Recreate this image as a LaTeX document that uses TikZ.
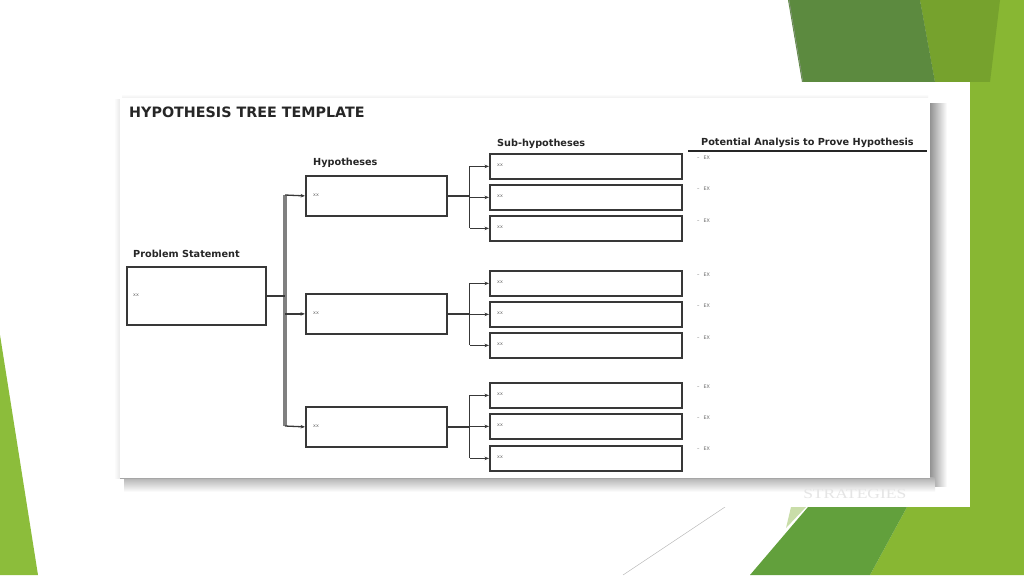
\documentclass[tikz,border=0pt]{standalone}
\usepackage{fontspec}
\setmainfont{DejaVu Sans}
\newfontfamily\wmfont{Liberation Serif}
\usetikzlibrary{arrows.meta}
\definecolor{dgreen}{HTML}{5C8A3F}
\definecolor{mgreen}{HTML}{76A22D}
\definecolor{lgreen}{HTML}{88B733}
\definecolor{bgreen}{HTML}{62A03C}
\definecolor{pgreen}{HTML}{C9DDA9}
\definecolor{trianglegreen}{HTML}{8CBD3B}
\begin{document}
\begin{tikzpicture}[x=1pt,y=-1pt,
  box/.style={draw=black!78,line width=1.8pt,anchor=north west,inner sep=0pt},
  hdr/.style={font=\bfseries\fontsize{9.7}{11}\selectfont,text=black!85,anchor=west,inner sep=0pt},
  tiny/.style={font=\fontsize{4.8}{5}\selectfont,text=black!60,anchor=west,inner sep=0pt},
  conn/.style={draw=black!78,line width=1.3pt},
  arr/.style={draw=black!78,line width=1.3pt,-{Stealth[length=4.5pt,width=3.5pt]}},
  trunk/.style={draw=black!50,line width=3.2pt}]
\useasboundingbox (0,0) rectangle (1024,575);
\fill[white] (0,0) rectangle (1024,575);
% slide decorations
\fill[trianglegreen] (0,335) -- (38,575) -- (0,575) -- cycle;
\fill[lgreen] (920,0) -- (1024,0) -- (1024,575) -- (870,575) -- (907,507) -- (935,82) -- cycle;
\fill[mgreen] (920,0) -- (1000,0) -- (990,82) -- (935,82) -- cycle;
\fill[dgreen] (788,0) -- (920,0) -- (935,82) -- (802,82) -- cycle;
\draw[black!40,line width=0.4pt] (789,0) -- (803,82);
\fill[bgreen] (750,575) -- (808,507) -- (907,507) -- (870,575) -- cycle;
\fill[pgreen] (791,507) -- (806,507) -- (786,528) -- cycle;
\draw[black!30,line width=0.4pt] (725,507) -- (623,575);
% slide image frame
\fill[white] (97,82) rectangle (970,507);
% inner panel shadow
\shade[left color=black!45,right color=white] (929,104) rectangle (947,486);
\shade[top color=black!32,bottom color=white] (124,477) rectangle (935,492);
\shade[left color=white,right color=black!10] (114,100) rectangle (121,478);
\shade[top color=white,bottom color=black!8] (122,94) rectangle (928,99);
\fill[white] (120,98) rectangle (930,478);
\draw[black!35,line width=0.6pt] (120,478) -- (930,478);
\node[text=black!10,font=\wmfont\fontsize{14}{15}\selectfont,anchor=west,inner sep=0pt,xscale=1.25,transform shape] (wm) at (803,494) {STRATEGIES};
% title and headers
\node[font=\bfseries\fontsize{14.3}{16}\selectfont,text=black!85,anchor=west,inner sep=0pt] (title) at (129,112) {HYPOTHESIS TREE TEMPLATE};
\node[hdr] (lps) at (133,254) {Problem Statement};
\node[hdr] (lh) at (313,163) {Hypotheses};
\node[hdr] (ls) at (497,144) {Sub-hypotheses};
\node[hdr] (lpa) at (701,143) {Potential Analysis to Prove Hypothesis};
\draw[black!85,line width=1.1pt] (688,151) -- (927,151);
% problem box
\node[box,minimum width=139pt,minimum height=58pt] (ps) at (126,266) {};
\node[tiny] (psx) at (133,295) {xx};
% hypotheses
\node[box,minimum width=141pt,minimum height=40pt] (h1) at (305,175) {};
\node[box,minimum width=141pt,minimum height=40pt] (h2) at (305,293) {};
\node[box,minimum width=141pt,minimum height=40pt] (h3) at (305,406) {};
\node[tiny] (h1x) at (313,195) {xx};
\node[tiny] (h2x) at (313,313) {xx};
\node[tiny] (h3x) at (313,426) {xx};
% sub-hypotheses
\foreach \n/\y in {s11/153,s12/184,s13/215,s21/270,s22/301,s23/332,s31/382,s32/413,s33/445}{
  \node[box,minimum width=192pt,minimum height=25pt] (\n) at (489,\y) {};
  \node[tiny] (\n x) at (497,\y+12.5) {xx};
}
% potential analysis items
\foreach \n/\y in {e11/158,e12/189,e13/221,e21/275,e22/306,e23/338,e31/387,e32/418,e33/449}{
  \node[tiny] (\n) at (697,\y) {–\hspace{4pt}EX};
}
% trunk connectors
\coordinate (tt) at (285,195);
\coordinate (tb) at (285,426);
\draw[trunk] (tt) -- (tb);
\draw[conn] (ps.east) -- (ps.east -| tt);
\draw[arr] (tt) -- (h1.west);
\draw[arr] (h2.west -| tt) -- (h2.west);
\draw[arr] (tb) -- (h3.west);
% sub branches
\foreach \h/\a/\b/\c in {h1/s11/s12/s13,h2/s21/s22/s23,h3/s31/s32/s33}{
  \coordinate (\h b) at ([xshift=22pt]\h.east);
  \draw[conn] (\h.east) -- (\h b);
  \draw[conn] (\a.west -| \h b) -- (\c.west -| \h b);
  \draw[arr] (\a.west -| \h b) -- (\a.west);
  \draw[arr] (\b.west -| \h b) -- (\b.west);
  \draw[arr] (\c.west -| \h b) -- (\c.west);
}
\end{tikzpicture}
\end{document}
